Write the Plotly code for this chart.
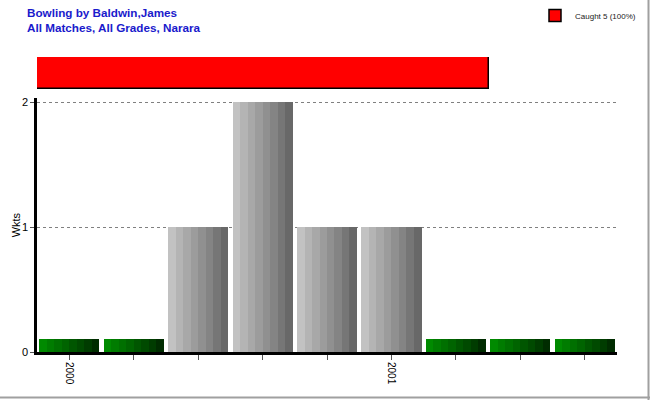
import plotly.graph_objects as go

# ---- data ----
categories = ["2000", "", "", "", "", "2001", "", "", ""]
wickets = [0, 0, 1, 2, 1, 1, 0, 0, 0]
dismissal_labels = ["Caught 5 (100%)"]
dismissal_counts = [5]
title_lines = ["Bowling by Baldwin,James", "All Matches, All Grades, Narara"]
y_ticks = [0, 1, 2]

# ---- style ----
W, H = 650, 400
ML, MR, MT, MB = 37, 33, 55, 48
PW, PH = W - ML - MR, H - MT - MB
Y_TOP = 2.03
ZERO_STUB = 0.1  # height drawn for innings with no wickets
BAR_W = 0.93
N_STRIPES = 8
gray_shades = ["#c2c2c2", "#b4b4b4", "#a8a8a8", "#9c9c9c", "#909090", "#848484", "#767676", "#686868"]
green_shades = ["#008a00", "#007c00", "#007000", "#006400", "#005600", "#004a00", "#003c00", "#002c00"]

xs = list(range(len(wickets)))
heights = [v if v > 0 else ZERO_STUB for v in wickets]

fig = go.Figure()
sw = BAR_W / N_STRIPES
for k in range(N_STRIPES):
    colors = [gray_shades[k] if v > 0 else green_shades[k] for v in wickets]
    fig.add_trace(go.Bar(
        x=xs, y=heights, width=[sw * 1.02] * len(xs),
        offset=[-BAR_W / 2 + k * sw] * len(xs),
        marker=dict(color=colors, line=dict(width=0)),
        showlegend=False, hoverinfo="skip",
        xaxis="x", yaxis="y",
    ))

# dismissal strip
fig.add_trace(go.Bar(
    x=dismissal_counts, y=[0], orientation="h", width=[1],
    marker=dict(color="#ff0000", line=dict(color="#000000", width=1.5)),
    name=dismissal_labels[0], showlegend=True,
    xaxis="x2", yaxis="y2",
))

px_per_unit = (352 - 102) / 2
y_main_top = (Y_TOP * px_per_unit) / PH

annotations = [
    dict(text="<b>" + title_lines[0] + "</b>", xref="paper", yref="paper",
         x=(25 - ML) / PW, y=(H - MB - 4) / PH, xanchor="left", yanchor="top",
         showarrow=False, font=dict(size=11.7, color="#1a1acc")),
    dict(text="<b>" + title_lines[1] + "</b>", xref="paper", yref="paper",
         x=(25 - ML) / PW, y=(H - MB - 19) / PH, xanchor="left", yanchor="top",
         showarrow=False, font=dict(size=11.7, color="#1a1acc")),
]

fig.update_layout(
    width=W, height=H,
    margin=dict(l=ML, r=MR, t=MT, b=MB, autoexpand=False),
    paper_bgcolor="white", plot_bgcolor="white",
    barmode="overlay", bargap=0,
    font=dict(family="Liberation Sans, Arial, sans-serif", size=11, color="black"),
    annotations=annotations,
    xaxis=dict(
        domain=[0, 1], range=[-0.5, len(wickets) - 0.5],
        tickmode="array", tickvals=xs, ticktext=categories, tickangle=90,
        ticks="outside", ticklen=5, tickcolor="#555555", tickfont=dict(size=10),
        showline=True, linecolor="black", linewidth=3, showgrid=False, zeroline=False,
        anchor="y", automargin=False,
    ),
    yaxis=dict(
        domain=[0, y_main_top], range=[0, Y_TOP],
        tickvals=y_ticks, ticks="outside", ticklen=4, tickcolor="#555555",
        showline=True, linecolor="black", linewidth=2.5,
        showgrid=True, gridcolor="#808080", griddash="3px,3px", gridwidth=1,
        zeroline=False,
        title=dict(text="Wkts", font=dict(size=11), standoff=0),
        anchor="x", automargin=False,
    ),
    xaxis2=dict(
        domain=[0, 1], range=[0, dismissal_counts[0] * PW / (489 - ML)],
        visible=False, anchor="y2", automargin=False,
    ),
    yaxis2=dict(
        domain=[(H - MB - 89) / PH, (H - MB - 57) / PH], range=[-0.5, 0.5],
        visible=False, anchor="x2", automargin=False,
    ),
    legend=dict(
        x=(641 - ML) / PW, xanchor="right", y=(H - MB - 1) / PH, yanchor="top",
        font=dict(size=8, color="#222222"), bgcolor="rgba(0,0,0,0)",
        itemwidth=30,
    ),
    shapes=[
        dict(type="line", xref="paper", yref="paper",
             x0=(W - 1.5 - ML) / PW, x1=(W - 1.5 - ML) / PW,
             y0=(H - MB - H) / PH, y1=(H - MB) / PH,
             line=dict(color="#a0a0a0", width=2)),
        dict(type="line", xref="paper", yref="paper",
             x0=-ML / PW, x1=(W - ML) / PW,
             y0=(H - MB - (H - 2.5)) / PH, y1=(H - MB - (H - 2.5)) / PH,
             line=dict(color="#a0a0a0", width=2)),
    ],
)

fig.write_html(
    "out.html",
    config={"displayModeBar": False},
    post_script="document.body.style.margin='0';document.body.style.overflow='hidden';",
)
